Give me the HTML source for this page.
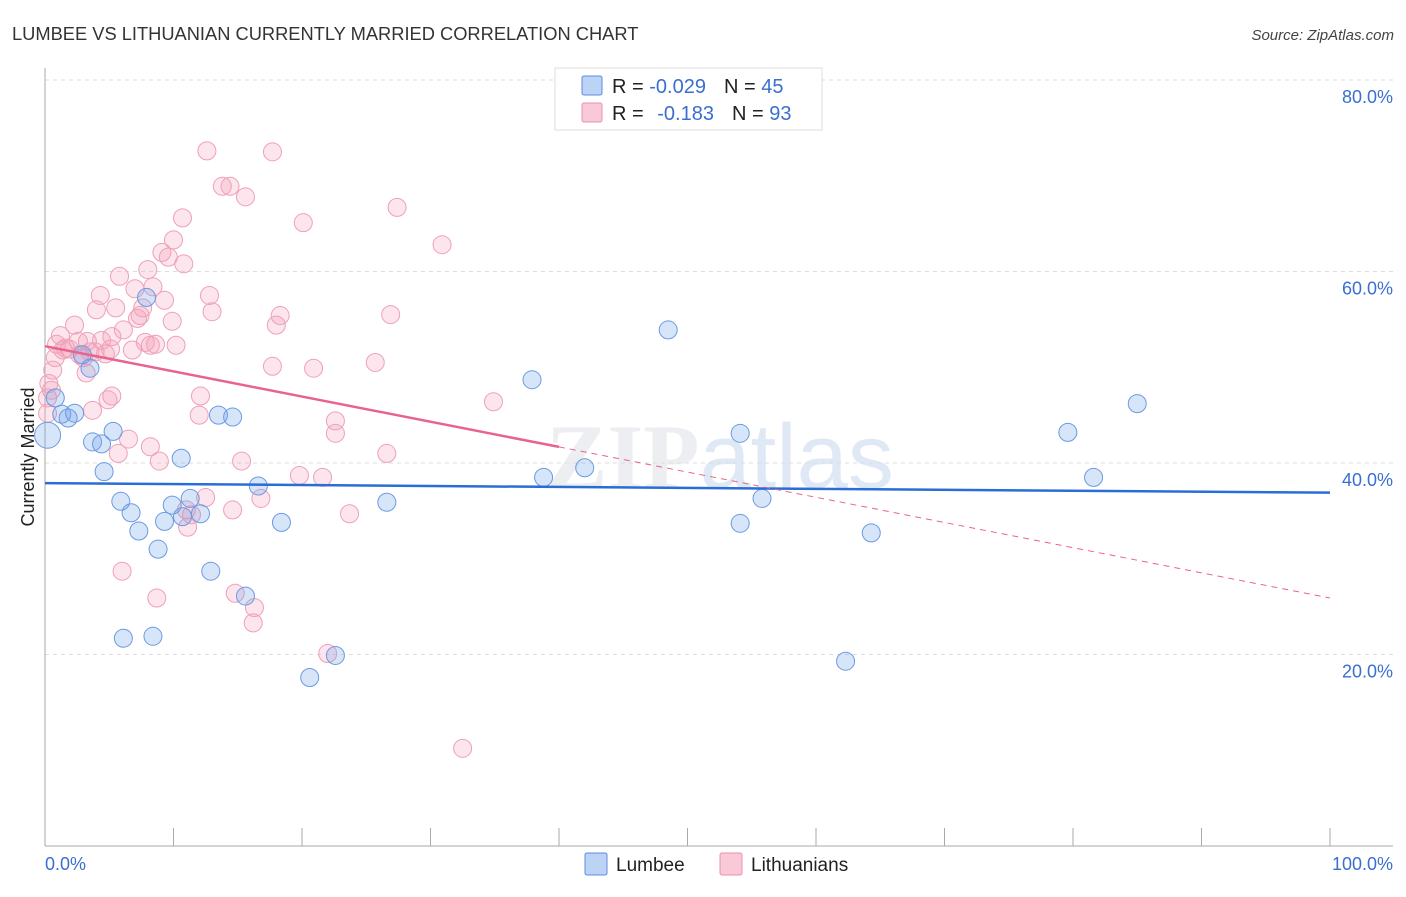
<!DOCTYPE html>
<html><head><meta charset="utf-8"><style>
body{margin:0;background:#fff;font-family:"Liberation Sans",sans-serif}
</style></head><body>
<svg id="chart" width="1406" height="892" xmlns="http://www.w3.org/2000/svg" font-family="Liberation Sans, sans-serif">
<text x="12" y="40" font-size="18.3" fill="#333">LUMBEE VS LITHUANIAN CURRENTLY MARRIED CORRELATION CHART</text>
<text x="1394" y="40" font-size="15" fill="#444" text-anchor="end" font-style="italic">Source: ZipAtlas.com</text>
<text x="720" y="488" font-size="92" fill="#eceef1" text-anchor="middle" font-family="Liberation Serif, serif" font-weight="bold">ZIP<tspan fill="#dfe8f5" font-family="Liberation Sans, sans-serif" font-weight="normal">atlas</tspan></text>
<g id="grid"></g>
<line x1="45" y1="68" x2="45" y2="846" stroke="#aaa"/>
<line x1="45" y1="846" x2="1393" y2="846" stroke="#aaa"/>
<text transform="translate(34,457) rotate(-90)" font-size="18" fill="#222" text-anchor="middle">Currently Married</text>
<text x="45" y="870" font-size="18" fill="#3a6fd0">0.0%</text>
<text x="1393" y="870" font-size="18" fill="#3a6fd0" text-anchor="end">100.0%</text>
<g id="pts"></g>
<g id="lines"></g>
<g>
<rect x="555" y="68" width="267" height="62" fill="#fff" stroke="#ddd"/>
<rect x="582" y="76" width="20" height="19" fill="#bcd3f5" stroke="#5a8de0" rx="2"/>
<rect x="582" y="103" width="20" height="19" fill="#f9c9d7" stroke="#ec8fab" rx="2"/>
<text x="612" y="93" font-size="20" fill="#222">R = <tspan fill="#3a6fd0">-0.029</tspan><tspan dx="18">N = </tspan><tspan fill="#3a6fd0">45</tspan></text>
<text x="612" y="120" font-size="20" fill="#222">R = <tspan dx="8" fill="#3a6fd0">-0.183</tspan><tspan dx="18">N = </tspan><tspan fill="#3a6fd0">93</tspan></text>
</g>
<g><rect x="585" y="853" width="22" height="22" fill="#bcd3f5" stroke="#5a8de0" rx="2"/><text x="616" y="871" font-size="19" fill="#222">Lumbee</text></g>
<g><rect x="720" y="853" width="22" height="22" fill="#f9c9d7" stroke="#ec8fab" rx="2"/><text x="751" y="871" font-size="19" fill="#222">Lithuanians</text></g>
</svg>
<script>
const yTicks=[20,40,60,80];
const xTicks=[0,10,20,30,40,50,60,70,80,90,100];
const lumbeeX=[0.2,0.8,1.3,1.8,2.3,3.7,4.4,4.6,5.3,3.5,2.9,5.9,6.7,7.3,8.8,6.1,8.4,7.9,9.3,9.9,10.6,10.7,11.3,12.1,12.9,13.5,14.6,16.6,15.6,18.4,20.6,22.6,26.6,37.9,38.8,42.0,48.5,54.1,54.1,55.8,62.3,64.3,79.6,81.6,85.0];
const lumbeeY=[42.9,46.8,45.1,44.7,45.2,42.2,42.0,39.1,43.3,49.9,51.3,36.0,34.8,32.9,31.0,21.7,21.9,57.3,33.9,35.6,40.5,34.4,36.3,34.7,28.7,45.0,44.8,37.6,26.1,33.8,17.6,19.9,35.9,48.7,38.5,39.5,53.9,43.1,33.7,36.3,19.3,32.7,43.2,38.5,46.2];
const lithX=[0.2,0.5,0.6,0.8,0.9,1.2,1.4,1.6,1.9,2.3,2.6,2.7,3.0,3.2,3.3,3.5,3.9,3.7,4.0,4.3,4.4,4.7,4.9,5.1,5.2,5.5,5.7,5.8,6.0,6.1,6.5,6.8,7.0,7.2,7.4,7.6,7.8,8.0,8.2,8.2,8.4,8.7,8.9,9.1,9.3,9.6,9.9,10.0,10.2,10.7,10.8,11.0,11.1,11.4,12.0,12.1,12.5,12.6,12.8,13.0,13.8,14.4,14.6,14.8,15.3,15.6,16.2,16.3,16.8,17.7,18.0,18.3,17.7,19.8,20.1,20.9,21.6,22.0,22.6,22.6,23.7,25.7,26.6,26.9,27.4,30.9,32.5,34.9,0.2,0.3,5.2,8.6];
const lithY=[46.8,47.6,49.7,51.0,52.4,53.3,51.8,52.0,51.9,54.4,52.7,51.3,51.0,49.4,52.7,51.6,51.6,45.5,56.0,57.5,52.8,51.4,46.6,51.9,47.0,56.2,41.0,59.5,28.7,53.9,42.5,51.8,58.2,55.1,55.4,56.2,52.6,60.2,52.3,41.7,58.4,25.9,40.2,62.0,57.0,61.5,54.8,63.3,52.3,65.6,60.8,35.1,33.3,34.6,45.0,47.0,36.4,72.6,57.5,55.8,68.9,68.9,35.1,26.4,40.2,67.8,23.3,24.9,36.3,72.5,54.4,55.4,50.1,38.7,65.1,49.9,38.5,20.1,44.4,43.1,34.7,50.5,41.0,55.5,66.7,62.8,10.2,46.4,45.2,48.3,53.2,52.4];
const lumbeeTrend=[37.9,36.9];
const lithTrend=[52.2,25.9];
const lithSolidEnd=40;
const X=v=>45+12.85*v, Y=v=>846-9.575*v;
const NS="http://www.w3.org/2000/svg";
function mk(t,a,p){const e=document.createElementNS(NS,t);for(const k in a)e.setAttribute(k,a[k]);p.appendChild(e);return e;}
const grid=document.getElementById('grid');
yTicks.forEach(v=>{
 const l=mk('line',{x1:45,x2:1393,y1:Y(v),y2:Y(v),stroke:'#ddd','stroke-dasharray':'4,4'},grid);
 
 
 const t=mk('text',{x:1393,y:Y(v)+23,'font-size':18,fill:'#3a6fd0','text-anchor':'end'},grid);
 t.textContent=v.toFixed(1)+'%';
 
 
});
xTicks.forEach(v=>{
 const l=mk('line',{x1:X(v),x2:X(v),y1:828,y2:846,stroke:'#aaa'},grid);
 
 
});
const pts=document.getElementById('pts');
lithX.forEach((x,i)=>{
 const c=mk('circle',{cx:X(x),cy:Y(lithY[i]),r:9,fill:'rgba(244,160,188,0.28)',stroke:'#efa0b8','stroke-width':1},pts);
 
 
});
lumbeeX.forEach((x,i)=>{
 const c=mk('circle',{cx:X(x),cy:Y(lumbeeY[i]),r:i===0?13:9,fill:'rgba(110,160,235,0.28)',stroke:'#6b9ae3','stroke-width':1},pts);
 
 
});
const lines=document.getElementById('lines');
const b=mk('line',{x1:X(0),y1:Y(lumbeeTrend[0]),x2:X(100),y2:Y(lumbeeTrend[1]),stroke:'#2a6dd6','stroke-width':2.5},lines);


const ly=v=>lithTrend[0]+(lithTrend[1]-lithTrend[0])*v/100;
const p1=mk('line',{x1:X(0),y1:Y(ly(0)),x2:X(lithSolidEnd),y2:Y(ly(lithSolidEnd)),stroke:'#e8648e','stroke-width':2.5},lines);


const p2=mk('line',{x1:X(lithSolidEnd),y1:Y(ly(lithSolidEnd)),x2:X(100),y2:Y(ly(100)),stroke:'#e8648e','stroke-width':1,'stroke-dasharray':'6,5'},lines);


</script>
</body></html>
